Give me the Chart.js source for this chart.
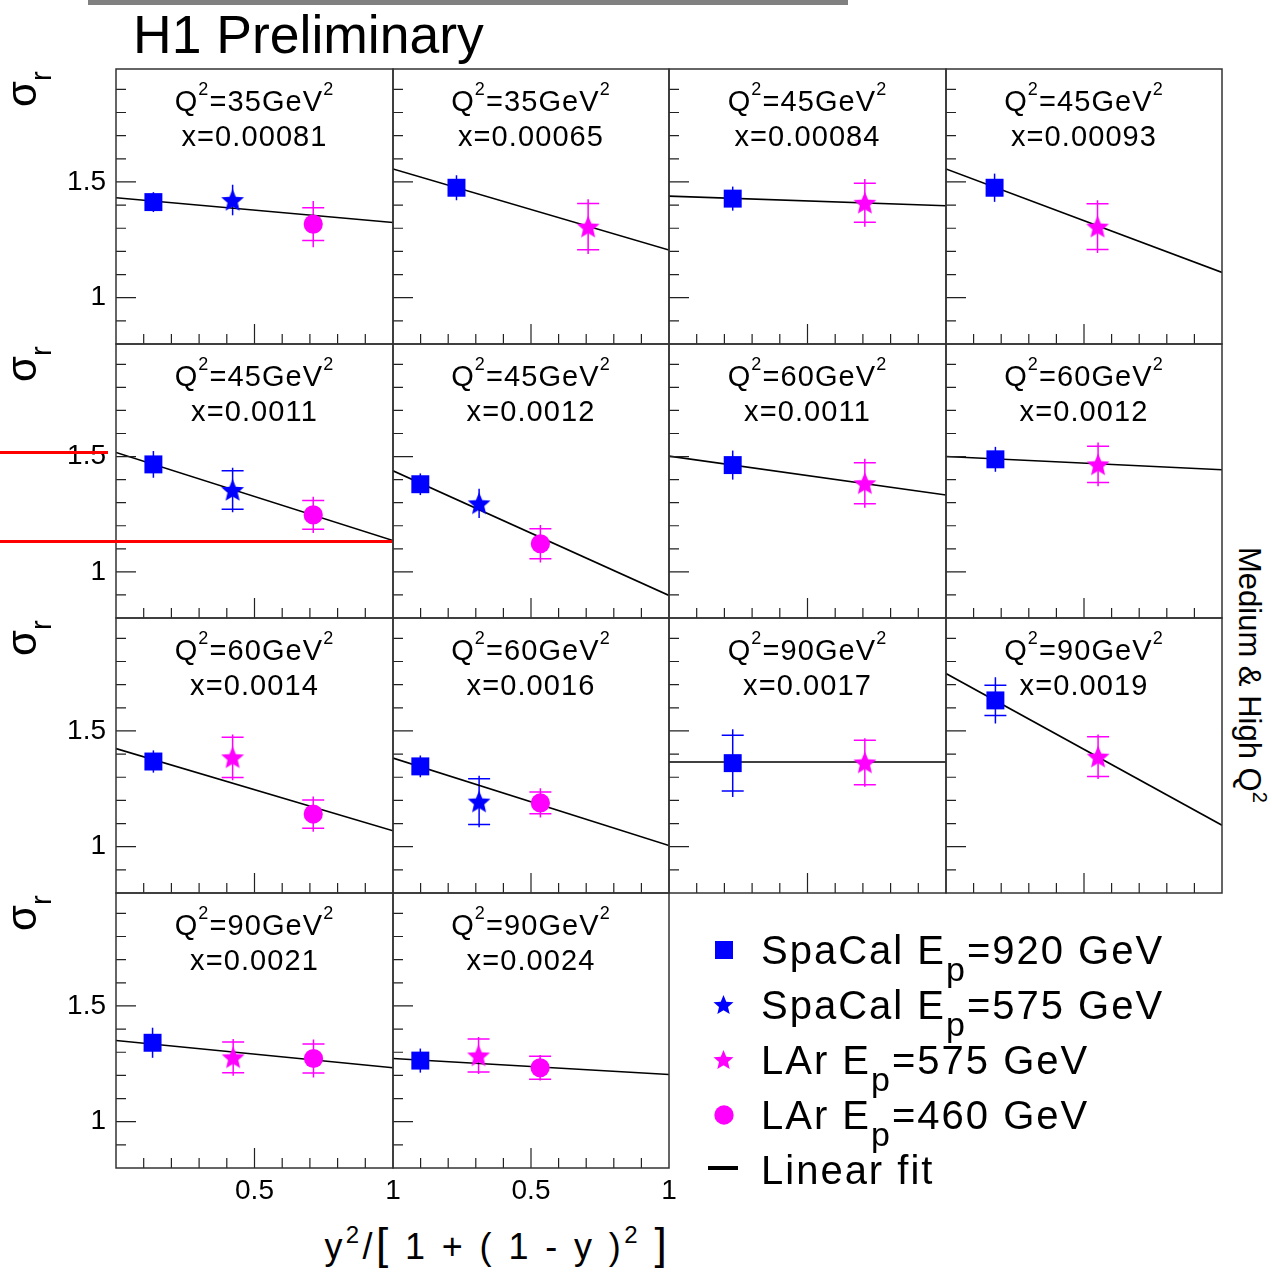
<!DOCTYPE html>
<html lang="en">
<head>
<meta charset="UTF-8">
<title>H1 Preliminary - sigma_r vs y2/[1+(1-y)2]</title>
<script src="https://cdn.jsdelivr.net/npm/chart.js"></script>
<style>
  body { margin: 0; background: #fff; }
  #page { position: relative; width: 1272px; height: 1274px; overflow: hidden;
          font-family: 'Liberation Sans', Arial, sans-serif; color: #000; }
  .abs { position: absolute; }
  .abs canvas { display: block; }
  .ptext { position: absolute; text-align: center; font-size: 29px; line-height: 35px;
           letter-spacing: 1.1px; white-space: nowrap; }
  .sup { font-size: 18px; vertical-align: 16px; line-height: 0; }
  .sig { position: absolute; left: 1px; font-size: 42px; line-height: 42px; white-space: nowrap;
         transform-origin: 0 0; transform: rotate(-90deg); }
  .rsub { font-size: 29px; vertical-align: -15px; line-height: 0; }
  .side { position: absolute; left: 1265px; top: 547px; font-size: 31px; line-height: 31px;
          white-space: nowrap; transform-origin: 0 0; transform: rotate(90deg); }
  .side .sup { font-size: 20px; vertical-align: 14px; }
  .leg { position: absolute; left: 761px; font-size: 40px; line-height: 55px; letter-spacing: 2px;
         white-space: nowrap; }
  .lsub { font-size: 34px; vertical-align: -17px; line-height: 0; }
  .redline { position: absolute; left: 0; height: 3px; background: #ff0000; z-index: 5; }
</style>
</head>
<body>
<div id="page">
  <div class="abs" style="left:88px;top:0;width:760px;height:5px;background:#808080"></div>
  <div class="abs" style="left:133px;top:5px;font-size:53.5px;line-height:60px;white-space:nowrap">H1 Preliminary</div>
  <div class="side">Medium &amp; High Q<span class="sup">2</span></div>
  <div class="abs" style="right:602px;top:1227px;font-size:36px;line-height:40px;letter-spacing:3.4px;white-space:nowrap">y<span class="sup" style="font-size:24px;vertical-align:16px">2</span>/<span style="font-size:44px;line-height:0">[</span> 1 + ( 1 - y )<span class="sup" style="font-size:24px;vertical-align:16px">2</span> <span style="font-size:44px;line-height:0">]</span></div>
  <div class="redline" style="top:451px;width:108px"></div>
  <div class="redline" style="top:540px;width:392px"></div>
</div>

<script>
// ---- panel labels (row by row, left to right) ----
const panelQ2 = [35, 35, 45, 45, 45, 45, 60, 60, 60, 60, 90, 90, 90, 90];
const panelXbj = ['0.00081', '0.00065', '0.00084', '0.00093',
                  '0.0011', '0.0012', '0.0011', '0.0012',
                  '0.0014', '0.0016', '0.0017', '0.0019',
                  '0.0021', '0.0024'];

// ---- SpaCal Ep=920 GeV (blue squares) ----
const spa920X = [0.135, 0.230, 0.230, 0.176, 0.135, 0.099, 0.230, 0.179, 0.135, 0.099, 0.230, 0.179, 0.132, 0.099];
const spa920Y = [1.413, 1.475, 1.428, 1.475, 1.466, 1.380, 1.463, 1.488, 1.368, 1.347, 1.361, 1.632, 1.341, 1.264];
const spa920Tot = [0.043, 0.054, 0.052, 0.061, 0.058, 0.047, 0.063, 0.054, 0.048, 0.047, 0.146, 0.100, 0.065, 0.052];
const spa920Stat = [0, 0, 0, 0, 0, 0, 0, 0, 0, 0, 0.120, 0.065, 0, 0];

// ---- SpaCal Ep=575 GeV (blue stars) ----
const spa575X = [0.421, null, null, null, 0.421, 0.312, null, null, null, 0.312, null, null, null, null];
const spa575Y = [1.422, null, null, null, 1.355, 1.297, null, null, null, 1.195, null, null, null, null];
const spa575Tot = [0.066, null, null, null, 0.096, 0.063, null, null, null, 0.111, null, null, null, null];
const spa575Stat = [0, null, null, null, 0.083, 0, null, null, null, 0.099, null, null, null, null];

// ---- LAr Ep=575 GeV (magenta stars) ----
const lar575X = [null, 0.707, 0.707, 0.549, null, null, 0.707, 0.551, 0.421, null, 0.707, 0.551, 0.423, 0.310];
const lar575Y = [null, 1.307, 1.410, 1.307, null, null, 1.384, 1.466, 1.386, null, 1.364, 1.389, 1.278, 1.286];
const lar575Tot = [null, 0.118, 0.103, 0.114, null, null, 0.106, 0.095, 0.099, null, 0.105, 0.096, 0.079, 0.080];
const lar575Stat = [null, 0.100, 0.084, 0.099, null, null, 0.089, 0.079, 0.087, null, 0.096, 0.086, 0.066, 0.071];

// ---- LAr Ep=460 GeV (magenta circles) ----
const lar460X = [0.712, null, null, null, 0.712, 0.534, null, null, 0.712, 0.534, null, null, 0.713, 0.533];
const lar460Y = [1.318, null, null, null, 1.247, 1.122, null, null, 1.141, 1.189, null, null, 1.273, 1.233];
const lar460Tot = [0.100, null, null, null, 0.079, 0.081, null, null, 0.076, 0.063, null, null, 0.082, 0.055];
const lar460Stat = [0.071, null, null, null, 0.062, 0.065, null, null, 0.061, 0.047, null, null, 0.063, 0.050];

// ---- linear fit: value at x=0 and at x=1 ----
const fitAt0 = [1.432, 1.556, 1.439, 1.556, 1.518, 1.438, 1.502, 1.500, 1.424, 1.383, 1.366, 1.748, 1.351, 1.273];
const fitAt1 = [1.325, 1.206, 1.397, 1.109, 1.136, 0.898, 1.333, 1.443, 1.069, 1.005, 1.366, 1.093, 1.233, 1.204];

// ---- axes ----
const yTickLabels = [1, 1.5];
const xTickLabels = [0.5, 1];
const yMin = 0.8, yMax = 1.988;

// ---- legend ----
const legendNames = ['SpaCal', 'SpaCal', 'LAr', 'LAr'];
const legendEp = [920, 575, 575, 460];
const legendShapes = ['square', 'star', 'star', 'circle'];
const legendColors = ['#0000ff', '#0000ff', '#ff00ff', '#ff00ff'];

const BLUE = '#0000ff', MAGENTA = '#ff00ff';
const colEdges = [116, 393, 669, 946, 1222];
const rowEdges = [69, 344, 618, 893, 1168];
const ML = 70, MR = 22, MT = 32, MB = 50;

Chart.defaults.font.family = "'Liberation Sans', Arial, sans-serif";

function makeStar(color, R) {
  const s = Math.ceil(R * 2 + 4);
  const c = document.createElement('canvas');
  c.width = s; c.height = s;
  const g = c.getContext('2d');
  g.fillStyle = color;
  g.beginPath();
  for (let k = 0; k < 10; k++) {
    const a = -Math.PI / 2 + k * Math.PI / 5;
    const rad = k % 2 ? R * 0.45 : R;
    g.lineTo(s / 2 + rad * Math.cos(a), s / 2 + 1 + rad * Math.sin(a));
  }
  g.closePath();
  g.fill();
  return c;
}
const blueStar = makeStar(BLUE, 12);
const magentaStar = makeStar(MAGENTA, 12);

const series = [
  { xs: spa920X, ys: spa920Y, tot: spa920Tot, stat: spa920Stat, color: BLUE, style: 'rect', radius: 12.7 },
  { xs: spa575X, ys: spa575Y, tot: spa575Tot, stat: spa575Stat, color: BLUE, style: blueStar, radius: 10 },
  { xs: lar575X, ys: lar575Y, tot: lar575Tot, stat: lar575Stat, color: MAGENTA, style: magentaStar, radius: 10 },
  { xs: lar460X, ys: lar460Y, tot: lar460Tot, stat: lar460Stat, color: MAGENTA, style: 'circle', radius: 9.6 }
];

// error bars under the markers, frame and inward ticks on top
const panelDecor = {
  id: 'panelDecor',
  beforeDatasetsDraw(chart, args, opts) {
    const i = opts.panel;
    const ctx = chart.ctx, xs = chart.scales.x, ys = chart.scales.y;
    ctx.save();
    ctx.lineWidth = 1.5;
    series.forEach(s => {
      if (s.xs[i] === null) return;
      const px = xs.getPixelForValue(s.xs[i]);
      const y0 = ys.getPixelForValue(s.ys[i] - s.tot[i]);
      const y1 = ys.getPixelForValue(s.ys[i] + s.tot[i]);
      ctx.strokeStyle = s.color;
      ctx.beginPath();
      ctx.moveTo(px, y0); ctx.lineTo(px, y1);
      if (s.stat[i] > 0) {
        [s.ys[i] - s.stat[i], s.ys[i] + s.stat[i]].forEach(v => {
          const py = ys.getPixelForValue(v);
          ctx.moveTo(px - 11, py); ctx.lineTo(px + 11, py);
        });
      }
      ctx.stroke();
    });
    ctx.restore();
  },
  afterDraw(chart) {
    const ctx = chart.ctx, xs = chart.scales.x, ys = chart.scales.y;
    const { left, right, top, bottom } = chart.chartArea;
    ctx.save();
    ctx.strokeStyle = '#222';
    ctx.lineWidth = 1.2;
    ctx.beginPath();
    for (let k = 9; k <= 19; k++) {
      const py = ys.getPixelForValue(k / 10);
      const len = (k === 10 || k === 15) ? 20 : 10;
      ctx.moveTo(left, py); ctx.lineTo(left + len, py);
    }
    for (let k = 1; k <= 9; k++) {
      const px = xs.getPixelForValue(k / 10);
      const len = k === 5 ? 20 : 10;
      ctx.moveTo(px, bottom); ctx.lineTo(px, bottom - len);
    }
    ctx.stroke();
    ctx.strokeStyle = '#333';
    ctx.lineWidth = 1.5;
    ctx.strokeRect(left, top, right - left, bottom - top);
    ctx.restore();
  }
};

const page = document.getElementById('page');

for (let i = 0; i < 14; i++) {
  const r = Math.floor(i / 4), c = i % 4;
  const x0 = colEdges[c], w = colEdges[c + 1] - x0;
  const y0 = rowEdges[r], h = rowEdges[r + 1] - y0;
  const showY = c === 0;
  const showX = r === 3;

  const box = document.createElement('div');
  box.className = 'abs';
  box.style.left = (x0 - ML) + 'px';
  box.style.top = (y0 - MT) + 'px';
  const cv = document.createElement('canvas');
  cv.width = w + ML + MR;
  cv.height = h + MT + MB;
  box.appendChild(cv);
  page.appendChild(box);

  const datasets = [{
    data: [{ x: 0, y: fitAt0[i] }, { x: 1, y: fitAt1[i] }],
    showLine: true, borderColor: '#000', borderWidth: 1.6, pointRadius: 0, order: 5
  }];
  series.forEach(s => {
    datasets.push({
      data: s.xs[i] === null ? [] : [{ x: s.xs[i], y: s.ys[i] }],
      pointStyle: s.style, pointRadius: s.radius, pointBorderWidth: 0,
      backgroundColor: s.color, borderColor: s.color, order: 1
    });
  });

  new Chart(cv, {
    type: 'scatter',
    data: { datasets },
    options: {
      responsive: false, animation: false, devicePixelRatio: 1, events: [],
      layout: { padding: { left: 0, right: MR, top: MT, bottom: 0 } },
      plugins: { legend: { display: false }, tooltip: { enabled: false }, panelDecor: { panel: i } },
      scales: {
        x: {
          type: 'linear', min: 0, max: 1,
          grid: { display: false, drawTicks: false }, border: { display: false },
          afterBuildTicks: s => { s.ticks = xTickLabels.map(v => ({ value: v })); },
          afterFit: s => { s.height = MB; },
          ticks: { display: showX, padding: 6, color: '#000', font: { size: 28 },
                   maxRotation: 0, autoSkip: false, callback: v => String(v) }
        },
        y: {
          type: 'linear', min: yMin, max: yMax,
          grid: { display: false, drawTicks: false }, border: { display: false },
          afterBuildTicks: s => { s.ticks = yTickLabels.map(v => ({ value: v })); },
          afterFit: s => { s.width = ML; },
          ticks: { display: showY, padding: 10, color: '#000', font: { size: 28 },
                   autoSkip: false, callback: v => String(v) }
        }
      }
    },
    plugins: [panelDecor]
  });

  const t = document.createElement('div');
  t.className = 'ptext';
  t.style.left = x0 + 'px';
  t.style.width = w + 'px';
  t.style.top = (y0 + 15) + 'px';
  t.innerHTML = 'Q<span class="sup">2</span>=' + panelQ2[i] + 'GeV<span class="sup">2</span><br>x=' + panelXbj[i];
  page.appendChild(t);
}

// sigma_r labels on the left of each row
for (let r = 0; r < 4; r++) {
  const s = document.createElement('div');
  s.className = 'sig';
  s.style.top = (rowEdges[r] + 37.5) + 'px';
  s.innerHTML = 'σ<span class="rsub">r</span>';
  page.appendChild(s);
}

// legend
function legendMarker(shape, color, cx, cy) {
  const cv = document.createElement('canvas');
  cv.width = 26; cv.height = 26;
  cv.className = 'abs';
  cv.style.left = (cx - 13) + 'px';
  cv.style.top = (cy - 13) + 'px';
  const g = cv.getContext('2d');
  g.fillStyle = color;
  if (shape === 'square') g.fillRect(4, 4, 18, 18);
  else if (shape === 'circle') { g.beginPath(); g.arc(13, 13, 9.7, 0, Math.PI * 2); g.fill(); }
  else g.drawImage(makeStar(color, 10.5), 0, 0);
  page.appendChild(cv);
}
for (let k = 0; k < 4; k++) {
  legendMarker(legendShapes[k], legendColors[k], 724, 949.5 + 55 * k);
  const d = document.createElement('div');
  d.className = 'leg';
  d.style.top = (922.5 + 55 * k) + 'px';
  d.innerHTML = legendNames[k] + ' E<span class="lsub">p</span>=' + legendEp[k] + ' GeV';
  page.appendChild(d);
}
const fitMark = document.createElement('div');
fitMark.className = 'abs';
fitMark.style.cssText += 'left:708px;top:1166px;width:30px;height:4px;background:#000';
page.appendChild(fitMark);
const fitText = document.createElement('div');
fitText.className = 'leg';
fitText.style.top = (922.5 + 55 * 4) + 'px';
fitText.textContent = 'Linear fit';
page.appendChild(fitText);
</script>
</body>
</html>
